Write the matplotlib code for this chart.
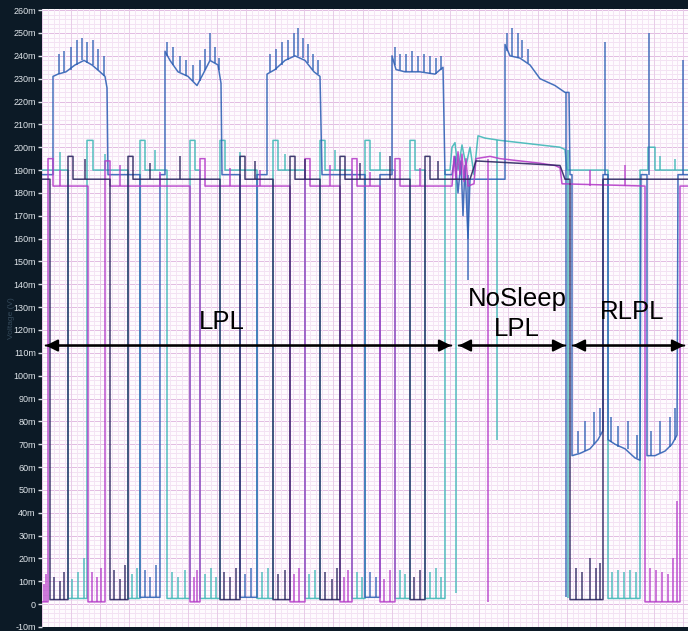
import numpy as np
import matplotlib
matplotlib.use("Agg")
import matplotlib.pyplot as plt

plt.rcParams["font.family"] = ["Liberation Sans", "DejaVu Sans"]

# time in sample units, voltage in mV; each channel is a list of (t, mV) knots
magenta_knots = [
    (42, 1), (48, 1), (48, 195), (53, 195), (53, 183),
    (88, 183), (88, 1), (105, 1), (105, 194), (110, 194), (110, 183),
    (190, 183), (190, 1), (200, 1), (200, 195), (205, 195), (205, 183),
    (290, 183), (290, 1), (305, 1), (305, 195), (310, 195), (310, 183),
    (340, 183), (340, 1), (352, 1), (352, 195), (357, 195), (357, 183),
    (380, 183), (380, 1), (395, 1), (395, 195), (400, 195), (400, 183),
    (452, 183), (454, 196), (456, 186), (458, 198), (460, 188), (462, 197),
    (464, 185), (466, 195), (468, 183), (474, 184), (476, 195), (490, 196),
    (500, 195), (520, 194), (540, 193), (555, 192), (560, 191), (562, 184),
    (645, 183), (645, 1), (680, 1), (680, 183), (688, 183),
]
navy_knots = [
    (42, 186), (50, 186), (50, 2), (68, 2), (68, 196), (73, 196), (73, 186),
    (110, 186), (110, 2), (128, 2), (128, 196), (133, 196), (133, 186),
    (220, 186), (220, 2), (240, 2), (240, 196), (245, 196), (245, 186),
    (273, 186), (273, 2), (290, 2), (290, 196), (295, 196), (295, 186),
    (320, 186), (320, 2), (340, 2), (340, 196), (345, 196), (345, 186),
    (410, 186), (410, 2), (425, 2), (425, 196), (430, 196), (430, 186),
    (470, 186), (476, 194), (560, 192), (565, 186),
    (570, 186), (570, 2), (603, 2), (603, 186), (688, 186),
]
teal_knots = [
    (42, 190), (68, 190), (68, 2.5), (87, 2.5), (87, 203), (93, 203), (93, 190),
    (128, 190), (128, 2.5), (140, 2.5), (140, 203), (145, 203), (145, 190),
    (167, 190), (167, 2.5), (190, 2.5), (190, 203), (195, 203), (195, 190),
    (200, 190), (200, 2.5), (220, 2.5), (220, 203), (225, 203), (225, 190),
    (257, 190), (257, 2.5), (273, 2.5), (273, 203), (278, 203), (278, 190),
    (305, 190), (305, 2.5), (320, 2.5), (320, 203), (325, 203), (325, 190),
    (352, 190), (352, 2.5), (365, 2.5), (365, 203), (370, 203), (370, 190),
    (395, 190), (395, 2.5), (410, 2.5), (410, 203), (415, 203), (415, 190),
    (425, 190), (425, 2.5), (445, 2.5), (445, 190),
    (450, 190), (452, 200), (455, 202), (458, 190), (462, 201), (466, 192),
    (470, 200), (474, 188), (478, 205), (485, 204), (500, 203), (520, 202),
    (540, 201), (560, 200), (565, 199), (567, 190),
    (608, 190), (608, 2.5), (640, 2.5), (640, 190), (648, 190), (648, 200),
    (655, 200), (655, 190), (688, 190),
]
blue_knots = [
    (42, 188), (53, 188), (53, 231), (58, 232), (66, 233), (75, 236), (84, 238),
    (92, 236), (100, 233), (105, 231), (107, 226), (108, 188),
    (140, 188), (140, 3), (160, 3), (160, 188),
    (165, 188), (165, 242), (170, 238), (178, 233), (188, 231), (197, 227),
    (203, 232), (210, 238), (218, 236), (221, 228), (222, 188),
    (240, 188), (240, 3), (257, 3), (257, 188),
    (267, 188), (267, 232), (275, 234), (285, 238), (295, 240), (305, 238),
    (314, 233), (320, 231), (322, 188),
    (365, 188), (365, 3), (380, 3), (380, 188),
    (392, 188), (392, 240), (396, 234), (405, 233), (420, 233), (435, 232),
    (443, 235), (445, 188),
    (452, 188), (455, 196), (458, 180), (461, 194), (463, 170), (465, 192),
    (468, 160), (470, 186), (495, 186), (505, 186), (505, 245), (510, 240),
    (520, 239), (530, 236), (540, 230), (555, 227), (565, 224), (569, 224),
    (570, 188), (572, 188), (572, 65), (580, 66), (590, 68), (598, 72),
    (603, 76), (603, 188), (608, 188), (608, 72), (615, 70), (625, 68),
    (635, 64), (640, 63), (641, 188), (647, 188), (647, 65), (655, 65),
    (665, 67), (672, 70), (677, 74), (678, 188), (688, 188),
]

# short glitches: (t, from mV, to mV)
blue_spikes = [
    (59, 232, 241), (64, 233, 242), (71, 234, 244), (77, 236, 247), (82, 238, 248),
    (87, 237, 246), (93, 236, 247), (98, 234, 243), (104, 231, 240),
    (167, 240, 246), (173, 236, 244), (180, 233, 240), (186, 231, 238),
    (193, 229, 236), (200, 229, 238), (205, 234, 243), (210, 238, 250),
    (215, 237, 244), (219, 234, 239),
    (270, 233, 241), (276, 234, 243), (282, 236, 246), (288, 238, 247),
    (294, 240, 250), (298, 240, 252), (303, 239, 248), (308, 237, 245),
    (313, 234, 241), (318, 232, 238),
    (395, 236, 244), (400, 234, 241), (406, 233, 241), (412, 233, 242),
    (418, 233, 240), (424, 233, 241), (430, 232, 240), (436, 232, 239),
    (441, 234, 240),
    (507, 242, 250), (512, 240, 252), (518, 239, 250), (522, 239, 247),
    (528, 237, 243),
    (605, 188, 246), (649, 188, 250), (683, 188, 238),
    (578, 66, 76), (585, 67, 80), (594, 70, 84), (600, 74, 86),
    (611, 71, 82), (618, 69, 78), (628, 68, 80), (637, 64, 74),
    (651, 65, 76), (660, 66, 80), (670, 69, 82), (675, 72, 86),
    (145, 3, 15), (150, 3, 12), (156, 3, 17), (245, 3, 13), (251, 3, 16),
    (370, 3, 14), (376, 3, 12), (468, 142, 188), (566, 3, 224),
]
magenta_spikes = [
    (44, 1, 9), (46, 1, 13), (92, 1, 14), (97, 1, 12), (101, 1, 16),
    (194, 1, 12), (197, 1, 15), (294, 1, 13), (299, 1, 16), (344, 1, 12),
    (348, 1, 15), (384, 1, 11), (390, 1, 15), (650, 1, 16), (656, 1, 15),
    (662, 1, 14), (668, 1, 13), (673, 1, 20), (677, 1, 45), (488, 1, 195),
    (60, 183, 190), (120, 183, 192), (160, 183, 189), (230, 183, 191),
    (260, 183, 190), (330, 183, 192), (370, 183, 189), (420, 183, 191),
    (590, 183, 190), (625, 183, 192),
]
navy_spikes = [
    (54, 2, 12), (60, 2, 10), (64, 2, 14), (114, 2, 15), (120, 2, 11),
    (125, 2, 17), (224, 2, 14), (230, 2, 12), (236, 2, 16), (278, 2, 13),
    (285, 2, 15), (325, 2, 14), (332, 2, 11), (337, 2, 16), (414, 2, 12),
    (420, 2, 15), (576, 2, 16), (582, 2, 14), (590, 2, 20), (596, 2, 16),
    (600, 2, 18),
    (85, 186, 195), (150, 186, 193), (180, 186, 196), (255, 186, 194),
    (305, 186, 195), (360, 186, 193), (390, 186, 196), (438, 186, 194),
]
teal_spikes = [
    (72, 2.5, 11), (78, 2.5, 14), (84, 2.5, 20), (132, 2.5, 13), (137, 2.5, 16),
    (172, 2.5, 14), (178, 2.5, 12), (185, 2.5, 15), (205, 2.5, 13),
    (211, 2.5, 16), (216, 2.5, 12), (262, 2.5, 14), (268, 2.5, 16),
    (309, 2.5, 13), (315, 2.5, 15), (357, 2.5, 14), (362, 2.5, 12),
    (400, 2.5, 15), (405, 2.5, 13), (430, 2.5, 14), (436, 2.5, 16),
    (441, 2.5, 12), (612, 2.5, 14), (618, 2.5, 15), (624, 2.5, 14),
    (630, 2.5, 15), (636, 2.5, 14), (456, 5, 190), (497, 72, 203),
    (568, 2.5, 199),
    (60, 190, 198), (105, 190, 197), (155, 190, 199), (240, 190, 198),
    (285, 190, 197), (335, 190, 199), (380, 190, 198), (660, 190, 196),
    (675, 190, 195),
]

yticks = np.arange(-10, 261, 10)
ytick_labels = ["0" if v == 0 else f"{v}m" for v in yticks]

# protocol phases along the time axis
phase_bounds = [42, 455, 569, 688]
phase_labels = [("LPL", 222, 123.5), ("NoSleep\nLPL", 517, 127), ("RLPL", 632, 128)]
arrow_level = 113.2

channels = [
    (teal_knots, teal_spikes, "#3bb6b6"),
    (blue_knots, blue_spikes, "#2d5fb4"),
    (magenta_knots, magenta_spikes, "#b53bc9"),
    (navy_knots, navy_spikes, "#28235e"),
]

fig = plt.figure(figsize=(6.88, 6.31), dpi=100, facecolor="#0c1a26")
ax = fig.add_axes([42 / 688, 4 / 631, 646 / 688, 618 / 631])
ax.set_facecolor("#fefbfe")
ax.set_xlim(42, 688)
ax.set_ylim(-10, 260.5)

# scope graticule
for v in np.arange(-10, 261, 2):
    major = v % 10 == 0
    ax.axhline(v, color="#e2bce2" if major else "#f3e2f3", lw=0.7, zorder=0)
for i, t in enumerate(np.arange(42, 689, 5.83)):
    ax.axvline(t, color="#e8cce8" if i % 5 == 0 else "#f4e4f4", lw=0.7, zorder=0)

for knots, spikes, color in channels:
    t, mv = zip(*knots)
    ax.plot(t, mv, color=color, lw=1.1, alpha=0.88, zorder=2)
    st, lo, hi = zip(*spikes)
    ax.vlines(st, lo, hi, color=color, lw=1.1, alpha=0.88, zorder=2)

arrow_props = dict(arrowstyle="-|>", color="black", lw=1.5, mutation_scale=18)
for a, b in zip(phase_bounds[:-1], phase_bounds[1:]):
    ax.annotate("", xy=(b - 1, arrow_level), xytext=(a + 1, arrow_level),
                arrowprops=arrow_props, zorder=4)
    ax.annotate("", xy=(a + 1, arrow_level), xytext=(b - 1, arrow_level),
                arrowprops=arrow_props, zorder=4)
for text, t, v in phase_labels:
    ax.text(t, v, text, ha="center", va="center", fontsize=18.5,
            color="black", linespacing=1.3, zorder=5)

ax.set_yticks(yticks)
ax.set_yticklabels(ytick_labels)
ax.set_xticks([])
ax.tick_params(axis="y", colors="#dfe5ea", labelsize=6.5, length=3, width=1,
               pad=1.5)
ax.set_ylabel("Voltage (V)", color="#34495a", fontsize=6, labelpad=-1)
for spine in ax.spines.values():
    spine.set_visible(False)

fig.savefig("out.png", dpi=100, facecolor=fig.get_facecolor())
